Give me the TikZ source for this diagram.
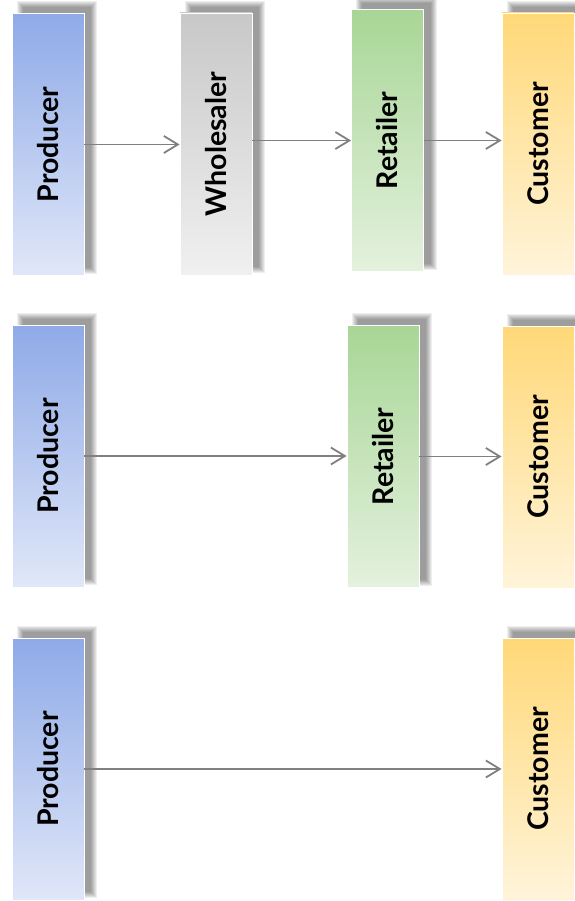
\documentclass[tikz,border=0pt]{standalone}
\usepackage{graphicx}
\usepackage{fontspec}
\setmainfont{Lato}
\usetikzlibrary{backgrounds,arrows.meta}
\definecolor{prodTop}{RGB}{143,170,232}
\definecolor{prodBot}{RGB}{224,231,248}
\definecolor{wholTop}{RGB}{200,200,200}
\definecolor{wholBot}{RGB}{240,240,240}
\definecolor{retTop}{RGB}{168,214,150}
\definecolor{retBot}{RGB}{228,241,222}
\definecolor{custTop}{RGB}{255,216,120}
\definecolor{custBot}{RGB}{255,244,218}
\definecolor{arrowgray}{RGB}{128,128,128}
\tikzset{
  stage/.style={draw=white, line width=0.8pt, minimum width=72pt, minimum height=262pt,
    inner sep=0pt, font=\bfseries\fontsize{28.5}{32}\selectfont, text=black},
  prod/.style={stage, top color=prodTop, bottom color=prodBot},
  whol/.style={stage, top color=wholTop, bottom color=wholBot},
  ret/.style={stage, top color=retTop, bottom color=retBot},
  cust/.style={stage, top color=custTop, bottom color=custBot},
  flow/.style={draw=arrowgray, line width=1.8pt, -{Straight Barb[length=14pt,width=17pt,line width=1.8pt]}}
}
\begin{document}
\begin{tikzpicture}[x=1pt,y=-1pt]
\useasboundingbox (0,0) rectangle (574,901);
% row 1
\node[prod] (p1) at (48,144.5) {\rotatebox{90}{Producer}};
\node[whol] (w1) at (216,144) {\rotatebox{90}{Wholesaler}};
\node[ret]  (r1) at (387.5,140.5) {\rotatebox{90}{Retailer}};
\node[cust] (c1) at (538,144) {\rotatebox{90}{Customer}};
% row 2
\node[prod] (p2) at (48,456) {\rotatebox{90}{Producer}};
\node[ret]  (r2) at (383,456.5) {\rotatebox{90}{Retailer}};
\node[cust] (c2) at (538,457) {\rotatebox{90}{Customer}};
% row 3
\node[prod] (p3) at (48,769) {\rotatebox{90}{Producer}};
\node[cust] (c3) at (538,769) {\rotatebox{90}{Customer}};
% soft shadows
\begin{scope}[on background layer]
\foreach \n in {p1,w1,r1,c1,p2,r2,c2,p3,c3}{
  \foreach \k in {0,...,6}{
    \fill[black,opacity=0.068]
      ([xshift={(5+\k)*1pt},yshift={(2+\k)*1pt}]\n.south west) rectangle
      ([xshift={(13-\k)*1pt},yshift={(12-\k)*1pt}]\n.north east);
  }
}
\end{scope}
% connectors
\draw[flow] (p1.east) -- (p1.east -| w1.west);
\draw[flow] (w1.east |- r1.west) -- (r1.west);
\draw[flow] (r1.east) -- (r1.east -| c1.west);
\draw[flow] (p2.east) -- (p2.east -| r2.west);
\draw[flow] (r2.east) -- (r2.east -| c2.west);
\draw[flow] (p3.east) -- (p3.east -| c3.west);
\end{tikzpicture}
\end{document}
